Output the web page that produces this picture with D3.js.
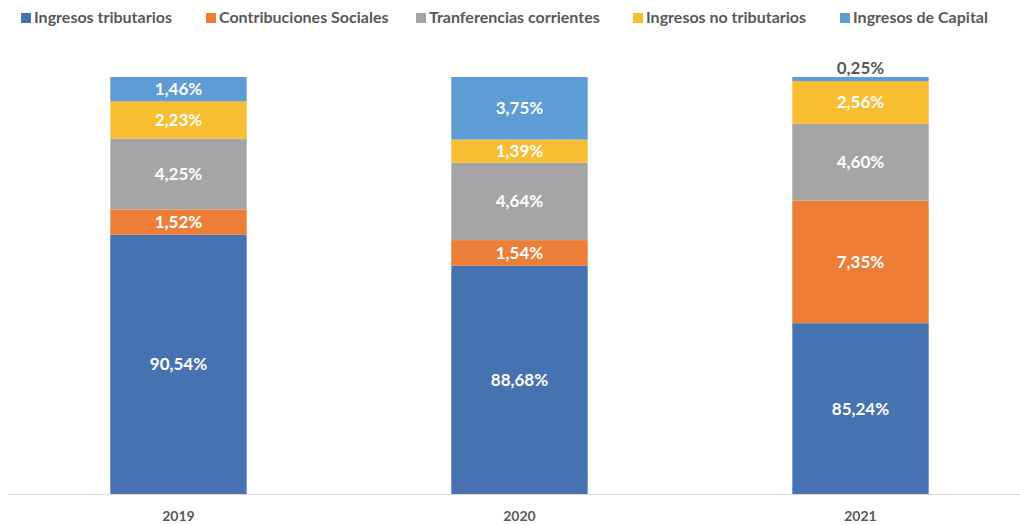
<!DOCTYPE html>
<html>
<head>
<meta charset="utf-8">
<script src="https://cdn.jsdelivr.net/npm/d3@7"></script>
<style>
	body { margin: 0; background: #fff; }
	svg text { font-family: "Lato", "Open Sans", sans-serif; font-weight: bold; }
</style>
</head>
<body>
<div id="chart"></div>
<script>
// years on the x axis
var years = ["2019", "2020", "2021"];

// series names, bottom to top
var series = ["Ingresos tributarios", "Contribuciones Sociales", "Tranferencias corrientes", "Ingresos no tributarios", "Ingresos de Capital"];
var colors = ["#4672b2", "#ed7d37", "#a5a5a5", "#f8be32", "#5d9cd4"];

// shares (%) per series, one per year
var tributarios = [90.54, 88.68, 85.24];
var contribuciones = [1.52, 1.54, 7.35];
var transferencias = [4.25, 4.64, 4.60];
var noTributarios = [2.23, 1.39, 2.56];
var capital = [1.46, 3.75, 0.25];

// the value axis of the original starts at 75%
var yDomain = [75, 100];

var Chart = function() {

	var svg, x, y, width = 1020, height = 525;

	var fmt = function(v) {
		return v.toFixed(2).replace(".", ",") + "%";
	}

	var render = function() {

		var values = [tributarios, contribuciones, transferencias, noTributarios, capital];

		// build rows for d3.stack
		var rows = years.map(function(yr, i) {
			var r = { year: yr };
			series.forEach(function(s, j) { r[s] = values[j][i]; });
			return r;
		});

		var stacked = d3.stack().keys(series)(rows);

		x = d3.scaleBand().domain(years).range([8, 1031]).paddingInner(0.6).paddingOuter(0.3);
		y = d3.scaleLinear().domain(yDomain).range([494, 77]);

		svg = d3.select("#chart").append("svg")
		.attr("width", width)
		.attr("height", height);

		// bars (clip to plot area, bottom of axis = 75%)
		svg.append("clipPath").attr("id", "plot")
		.append("rect").attr("x", 0).attr("y", 0).attr("width", width).attr("height", y(yDomain[0]));

		var layers = svg.append("g").attr("clip-path", "url(#plot)")
		.selectAll("g.layer")
		.data(stacked)
		.enter().append("g")
		.attr("class", "layer")
		.attr("fill", function(d, i) { return colors[i]; });

		layers.selectAll("rect")
		.data(function(d) { return d; })
		.enter().append("rect")
		.attr("x", function(d) { return x(d.data.year); })
		.attr("width", x.bandwidth())
		.attr("y", function(d) { return y(d[1]); })
		.attr("height", function(d) { return y(d[0]) - y(d[1]); });

		// x axis line
		svg.append("line")
		.attr("x1", 8).attr("x2", width)
		.attr("y1", y(yDomain[0]) + 0.5).attr("y2", y(yDomain[0]) + 0.5)
		.attr("stroke", "#d9d9d9").attr("stroke-width", 1);

		// data labels
		stacked.forEach(function(layer) {
			layer.forEach(function(d) {
				var top = y(d[1]),
					bottom = y(Math.max(d[0], yDomain[0])),
					small = bottom - top < 15,
					cy = small ? top - 9 : (top + bottom) / 2;
				svg.append("text")
				.attr("x", x(d.data.year) + x.bandwidth() / 2)
				.attr("y", cy)
				.attr("dy", "0.35em")
				.attr("text-anchor", "middle")
				.attr("font-size", 17)
				.attr("fill", small ? "#595959" : "#fff")
				.text(fmt(d[1] - d[0]));
			});
		});

		// year labels
		svg.selectAll("text.year")
		.data(years)
		.enter().append("text")
		.attr("class", "year")
		.attr("x", function(d) { return x(d) + x.bandwidth() / 2; })
		.attr("y", 516)
		.attr("dy", "0.35em")
		.attr("text-anchor", "middle")
		.attr("font-size", 14)
		.attr("fill", "#595959")
		.text(function(d) { return d; });

		// legend
		var legendX = [21, 206, 416, 633, 840];
		var legend = svg.selectAll("g.legend")
		.data(series)
		.enter().append("g")
		.attr("class", "legend")
		.attr("transform", function(d, i) { return "translate(" + legendX[i] + ",11)"; });

		legend.append("rect")
		.attr("width", 10).attr("height", 10)
		.attr("y", 2)
		.attr("fill", function(d, i) { return colors[i]; });

		legend.append("text")
		.attr("x", 13)
		.attr("y", 6)
		.attr("dy", "0.35em")
		.attr("font-size", 16)
		.attr("fill", "#595959")
		.text(function(d) { return d; });
	}

	return { render: render };
};

Chart().render();
</script>
</body>
</html>
